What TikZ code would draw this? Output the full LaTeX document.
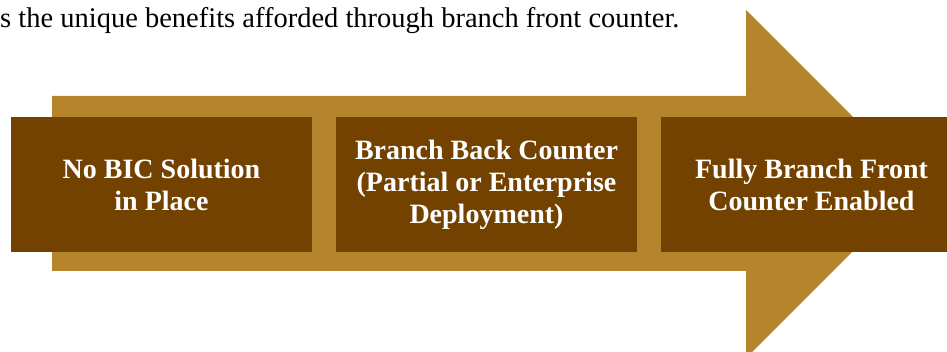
\documentclass[tikz,border=0pt]{standalone}
\usepackage{fontspec}
\setmainfont{Liberation Serif}
\usepackage{xcolor}
\usepackage{tikz}
\usetikzlibrary{positioning}
\definecolor{arrowgold}{RGB}{181,133,46}
\definecolor{stagebrown}{RGB}{116,66,0}

\begin{document}
\begin{tikzpicture}[x=1pt,y=-1pt,
        stagebox/.style={fill=stagebrown,text=white,minimum width=301pt,minimum height=135pt,
            inner sep=0pt,outer sep=0pt,align=center,font=\bfseries\fontsize{28}{32}\selectfont}]
            \useasboundingbox (0,0) rectangle (947,352);
            \clip (0,0) rectangle (947,352);
            \node[anchor=base west,inner sep=0pt,font=\fontsize{28.5}{32}\selectfont] (intro) at (0,28)
                {s the unique benefits afforded through branch front counter.};
            % big arrow behind the stages
            \fill[arrowgold] (52,96) -- (746,96) -- (746,10) -- (920,184) -- (746,358) -- (746,271) -- (52,271) -- cycle;

            \node[stagebox] (none) at (161.5,184.5) {No BIC Solution\\in Place};
            \node[stagebox,right=24pt of none] (back) {Branch Back Counter\\(Partial or Enterprise\\Deployment)};
            \node[stagebox,right=24pt of back] (front) {Fully Branch Front\\Counter Enabled};
        \end{tikzpicture}
\end{document}
